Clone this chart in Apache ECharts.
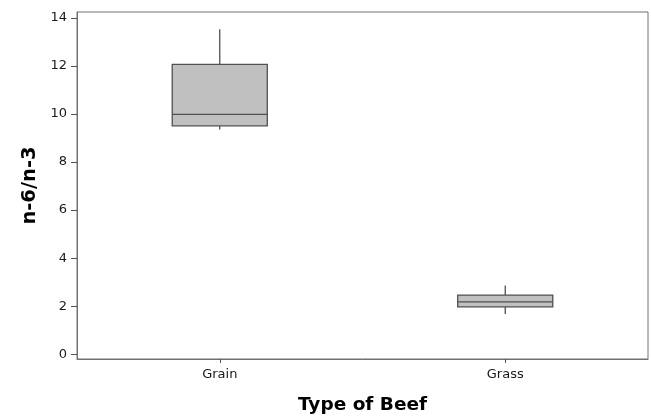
<!DOCTYPE html>
<html>
<head>
<meta charset="utf-8">
<script src="https://cdn.jsdelivr.net/npm/echarts@6/dist/echarts.min.js"></script>
<style>html,body{margin:0;padding:0;background:#fff}#c{width:651px;height:420px}</style>
</head>
<body>
<div id="c"></div>
<script>
const categories = ['Grain', 'Grass'];
const lowWhisker = [9.36, 1.67];
const q1 = [9.51, 1.97];
const median = [9.99, 2.18];
const q3 = [12.07, 2.46];
const highWhisker = [13.53, 2.86];
const yTicks = [0, 2, 4, 6, 8, 10, 12, 14];

const data = categories.map((c, i) => [i, lowWhisker[i], q1[i], median[i], q3[i], highWhisker[i]]);
const chart = echarts.init(document.getElementById('c'));
const font = '"DejaVu Sans", Verdana, sans-serif';
chart.setOption({
  animation: false,
  grid: { left: 77, right: 3, top: 12, bottom: 56, show: true, borderColor: '#707070', borderWidth: 1 },
  xAxis: {
    type: 'category', data: categories, boundaryGap: true,
    name: 'Type of Beef', nameLocation: 'middle', nameGap: 37,
    nameTextStyle: { fontFamily: font, fontWeight: 'bold', fontSize: 18.5, color: '#000' },
    axisLine: { show: true, onZero: false, lineStyle: { color: '#707070' } },
    axisTick: { show: true, alignWithLabel: true, length: 4, lineStyle: { color: '#555', width: 1 } },
    axisLabel: { fontFamily: font, fontSize: 13, color: '#1a1a1a', margin: 9 },
    splitLine: { show: false }
  },
  yAxis: {
    type: 'value', min: -0.2, max: 14.25,
    name: 'n-6/n-3', nameLocation: 'middle', nameGap: 37,
    nameTextStyle: { fontFamily: font, fontWeight: 'bold', fontSize: 19.5, color: '#000' },
    axisLine: { show: true, onZero: false, lineStyle: { color: '#707070' } },
    axisTick: { show: true, length: 6, customValues: yTicks, lineStyle: { color: '#555', width: 1 } },
    axisLabel: { fontFamily: font, fontSize: 13, color: '#1a1a1a', margin: 10, customValues: yTicks },
    splitLine: { show: false }
  },
  series: [{
    type: 'custom',
    data: data,
    encode: { x: 0, y: [1, 2, 3, 4, 5] },
    renderItem: function (params, api) {
      const x = api.value(0);
      const band = api.size([1, 0])[0];
      const w = band * 0.333;
      const pLow = api.coord([x, api.value(1)]);
      const pQ1 = api.coord([x, api.value(2)]);
      const pMed = api.coord([x, api.value(3)]);
      const pQ3 = api.coord([x, api.value(4)]);
      const pHigh = api.coord([x, api.value(5)]);
      const cx = pQ1[0];
      const stroke = { stroke: '#505050', lineWidth: 1.3, fill: null };
      return {
        type: 'group',
        children: [
          { type: 'line', shape: { x1: cx, y1: pQ3[1], x2: cx, y2: pHigh[1] }, style: stroke },
          { type: 'line', shape: { x1: cx, y1: pQ1[1], x2: cx, y2: pLow[1] }, style: stroke },
          { type: 'rect', shape: { x: cx - w / 2, y: pQ3[1], width: w, height: pQ1[1] - pQ3[1] },
            style: { fill: '#c0c0c0', stroke: '#505050', lineWidth: 1.3 } },
          { type: 'line', shape: { x1: cx - w / 2, y1: pMed[1], x2: cx + w / 2, y2: pMed[1] }, style: stroke }
        ]
      };
    }
  }]
});
</script>
</body>
</html>
